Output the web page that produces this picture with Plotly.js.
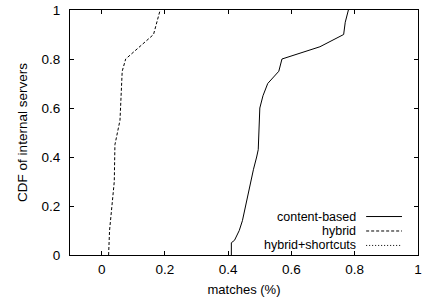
<!DOCTYPE html>
<html>
<head>
<meta charset="utf-8">
<script src="https://cdn.plot.ly/plotly-3.0.1.min.js"></script>
<style>html,body{margin:0;padding:0;background:#fff;}#chart{width:425px;height:301px;}</style>
</head>
<body>
<div id="chart"></div>
<script>
// Series names
var seriesNames = ["content-based", "hybrid", "hybrid+shortcuts"];

// content-based: matches fraction (x) vs CDF (y)
var contentX = [0.41, 0.41, 0.42, 0.435, 0.445, 0.455, 0.465, 0.47, 0.48, 0.49, 0.495, 0.50, 0.51, 0.525, 0.56, 0.57, 0.69, 0.765, 0.77, 0.78];
var contentY = [0.00, 0.05, 0.06, 0.10, 0.14, 0.20, 0.27, 0.30, 0.35, 0.40, 0.43, 0.60, 0.65, 0.70, 0.75, 0.80, 0.85, 0.90, 0.95, 1.00];

// hybrid
var hybridX = [0.022, 0.025, 0.04, 0.042, 0.058, 0.065, 0.076, 0.164, 0.185];
var hybridY = [0.00, 0.10, 0.30, 0.45, 0.55, 0.75, 0.80, 0.90, 1.00];

// hybrid+shortcuts: no visible curve in the plotted range
var shortcutsX = [];
var shortcutsY = [];

var xTicks = [0, 0.2, 0.4, 0.6, 0.8, 1];
var yTicks = [0, 0.2, 0.4, 0.6, 0.8, 1];
var xTickLabels = ["0", "0.2", "0.4", "0.6", "0.8", "1"];
var yTickLabels = ["0", "0.2", "0.4", "0.6", "0.8", "1"];

var dashes = ["solid", "3px,2px", "1px,2px"];
var seriesX = [contentX, hybridX, shortcutsX];
var seriesY = [contentY, hybridY, shortcutsY];

var FONT = "Liberation Sans, Arial, Helvetica, sans-serif";

var traces = seriesNames.map(function (n, i) {
  return {
    x: seriesX[i], y: seriesY[i], name: n, type: "scatter", mode: "lines",
    line: {color: "#000", width: 1, dash: dashes[i]}, showlegend: false,
    hoverinfo: "x+y"
  };
});

// Gnuplot-style legend: right-aligned text, line sample to the right
var rowY = [0.157, 0.098, 0.039];
var annotations = [];
var shapes = [];
seriesNames.forEach(function (n, i) {
  annotations.push({
    xref: "paper", yref: "paper", x: 0.824, y: rowY[i], text: n,
    showarrow: false, xanchor: "right", yanchor: "middle", align: "right",
    borderpad: 0,
    font: {family: FONT, size: 12.5, color: "#000"}
  });
  shapes.push({
    type: "line", xref: "paper", yref: "paper",
    x0: 0.851, x1: 0.954, y0: rowY[i], y1: rowY[i],
    line: {color: "#000", width: 1, dash: dashes[i]}
  });
});

var layout = {
  width: 425, height: 301,
  margin: {l: 70, r: 7, t: 10, b: 46},
  paper_bgcolor: "#fff", plot_bgcolor: "#fff",
  font: {family: FONT, size: 13.5, color: "#000"},
  showlegend: false,
  xaxis: {
    range: [-0.1, 1], tickvals: xTicks, ticktext: xTickLabels,
    ticks: "inside", ticklen: 4, tickcolor: "#000", tickwidth: 1,
    showline: true, linecolor: "#000", linewidth: 1, mirror: "allticks",
    showgrid: false, zeroline: false, ticklabelstandoff: 2,
    title: {text: "matches (%)", font: {family: FONT, size: 13, color: "#000"}, standoff: 8}
  },
  yaxis: {
    range: [0, 1], tickvals: yTicks, ticktext: yTickLabels,
    ticks: "inside", ticklen: 4, tickcolor: "#000", tickwidth: 1,
    showline: true, linecolor: "#000", linewidth: 1, mirror: "allticks",
    showgrid: false, zeroline: false, ticklabelstandoff: 6,
    title: {text: "CDF of internal servers", font: {family: FONT, size: 13.5, color: "#000"}, standoff: 10}
  },
  annotations: annotations,
  shapes: shapes
};

Plotly.newPlot("chart", traces, layout, {displayModeBar: false, staticPlot: true});
</script>
</body>
</html>
